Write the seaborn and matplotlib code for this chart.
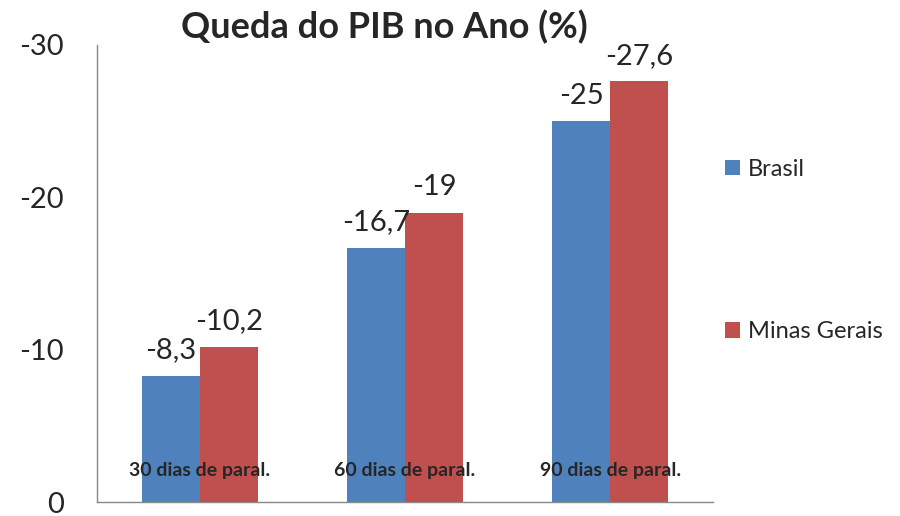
import pandas as pd
import seaborn as sns
import matplotlib.pyplot as plt

categorias = ["30 dias de paral.", "60 dias de paral.", "90 dias de paral."]
brasil = [-8.3, -16.7, -25.0]
minas = [-10.2, -19.0, -27.6]
series = ["Brasil", "Minas Gerais"]
cores = ["#4F81BD", "#C0504D"]
yticks = [0, -10, -20, -30]

df = pd.DataFrame({
    "cat": categorias * 2,
    "serie": [series[0]] * 3 + [series[1]] * 3,
    "valor": brasil + minas,
})

sns.set_style("white")
plt.rcParams["font.family"] = ["Lato", "DejaVu Sans"]

fig = plt.figure(figsize=(9, 5.16), dpi=100)
ax = fig.add_axes([0.108, 0.027, 0.684, 0.886])

sns.barplot(data=df, x="cat", y="valor", hue="serie", palette=cores,
            saturation=1, width=0.566, gap=0, linewidth=0, ax=ax, errorbar=None)

# eixo invertido: 0 embaixo, -30 em cima
ax.set_ylim(0, -30)
ax.set_xlim(-0.5, 2.5)
ax.set_yticks(yticks)
ax.set_yticklabels([str(t) for t in yticks], fontsize=21)
ax.set_xticks([-0.5, 0.5, 1.5, 2.5])
ax.set_xticklabels([])
ax.tick_params(axis="x", direction="in", length=6, color="#888888")
ax.tick_params(axis="y", direction="out", length=7, color="#888888", pad=17)
ax.set_xlabel("")
ax.set_ylabel("")

for s in ["top", "right"]:
    ax.spines[s].set_visible(False)
for s in ["left", "bottom"]:
    ax.spines[s].set_color("#888888")
    ax.spines[s].set_linewidth(1)

for cont in ax.containers:
    labels = [("%g" % v).replace(".", ",") for v in cont.datavalues]
    ax.bar_label(cont, labels=labels, fontsize=21, padding=9)

for i, c in enumerate(categorias):
    ax.text(i, -2.1, c, ha="center", va="center", fontsize=14, fontweight="bold")

ax.legend(loc="center left", bbox_to_anchor=(1.004, 0.55), frameon=False,
          fontsize=17, labelspacing=6.0, handlelength=0.65, handleheight=0.65,
          handletextpad=0.35, borderaxespad=0)

fig.text(0.427, 0.948, "Queda do PIB no Ano (%)", ha="center", va="center",
         fontsize=26, fontweight="bold")

fig.savefig("out.png", dpi=100)
